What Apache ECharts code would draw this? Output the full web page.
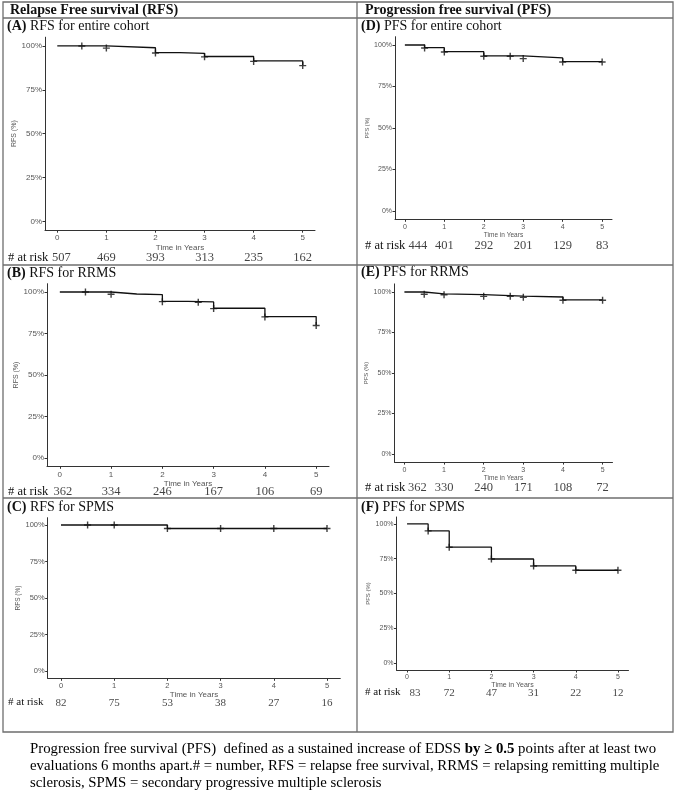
<!DOCTYPE html>
<html>
<head>
<meta charset="utf-8">
<script src="https://cdn.jsdelivr.net/npm/echarts@6/dist/echarts.min.js"></script>
<style>
html,body{margin:0;padding:0;background:#fff;}
#c{width:676px;height:801px;}
</style>
</head>
<body>
<div id="c"></div>
<script>
// ---------- DATA ----------
const timeTicks = [0, 1, 2, 3, 4, 5];
const pctTicks = [0, 25, 50, 75, 100];

// (A) RFS entire cohort
const rfsAllTime = [0, 1, 2, 2.5, 3, 4, 5];
const rfsAllSurv = [100, 99, 96.2, 95.8, 94, 91.5, 89];
const rfsAllCensTime = [0.5, 1, 2, 3, 4, 5];
const rfsAllCensSurv = [100, 98.8, 96, 93.8, 91.2, 88.8];
const rfsAllRisk = [507, 469, 393, 313, 235, 162];

// (D) PFS entire cohort
const pfsAllTime = [0, 0.5, 1, 2, 3, 4, 5];
const pfsAllSurv = [100, 98.4, 96, 93.4, 92.2, 90, 90];
const pfsAllCensTime = [0.5, 1, 2, 2.67, 3, 4, 5];
const pfsAllCensSurv = [98.2, 95.8, 93.2, 93.2, 91.8, 89.8, 89.8];
const pfsAllRisk = [444, 401, 292, 201, 129, 83];

// (B) RFS RRMS
const rfsRrTime = [0, 1, 1.5, 2, 2.5, 3, 4, 5];
const rfsRrSurv = [100, 98.8, 98.4, 94.4, 94, 90.2, 85.2, 80];
const rfsRrCensTime = [0.5, 1, 2, 2.7, 3, 4, 5];
const rfsRrCensSurv = [100, 98.6, 94.2, 93.8, 90, 85, 79.8];
const rfsRrRisk = [362, 334, 246, 167, 106, 69];

// (E) PFS RRMS
const pfsRrTime = [0, 0.5, 1, 2, 3, 4, 5];
const pfsRrSurv = [100, 98.8, 98.4, 97.5, 96.9, 95.1, 95.1];
const pfsRrCensTime = [0.5, 1, 2, 2.67, 3, 4, 5];
const pfsRrCensSurv = [98.6, 98.3, 97.3, 97.3, 96.7, 94.9, 94.9];
const pfsRrRisk = [362, 330, 240, 171, 108, 72];

// (C) RFS SPMS
const rfsSpTime = [0, 2, 5];
const rfsSpSurv = [100, 97.6, 97.6];
const rfsSpCensTime = [0.5, 1, 2, 3, 4, 5];
const rfsSpCensSurv = [100, 100, 97.6, 97.6, 97.6, 97.6];
const rfsSpRisk = [82, 75, 53, 38, 27, 16];

// (F) PFS SPMS
const pfsSpTime = [0, 0.5, 1, 2, 3, 4, 5];
const pfsSpSurv = [100, 95, 83.3, 74.8, 69.8, 66.7, 66.7];
const pfsSpCensTime = [0.5, 1, 2, 3, 4, 5];
const pfsSpCensSurv = [95, 83.3, 74.8, 69.8, 66.7, 66.7];
const pfsSpRisk = [83, 72, 47, 31, 22, 12];

const headerLeft = 'Relapse Free survival (RFS)';
const headerRight = 'Progression free survival (PFS)';
const riskLabel = '# at risk';
const xTitle = 'Time in Years';

// ---------- LAYOUT / STYLE ----------
const panels = [
  {tag:'(A)', sub:' RFS for entire cohort', yName:'RFS (%)', t:rfsAllTime, s:rfsAllSurv, ct:rfsAllCensTime, cs:rfsAllCensSurv, risk:rfsAllRisk,
   grid:{left:45, top:37.2, width:270, height:193}, tick:8, xn:8, yn:7, yGap:17, xGap:14, riskY:258, riskFs:12.5, off:4, tx:7, ty:27, rx:8},
  {tag:'(D)', sub:' PFS for entire cohort', yName:'PFS (%)', t:pfsAllTime, s:pfsAllSurv, ct:pfsAllCensTime, cs:pfsAllCensSurv, risk:pfsAllRisk,
   grid:{left:395, top:36.7, width:217, height:182.6}, tick:7, xn:6.5, yn:5.5, yGap:15, xGap:12, riskY:246, riskFs:12.5, off:13, tx:361, ty:27, rx:365},
  {tag:'(B)', sub:' RFS for RRMS', yName:'RFS (%)', t:rfsRrTime, s:rfsRrSurv, ct:rfsRrCensTime, cs:rfsRrCensSurv, risk:rfsRrRisk,
   grid:{left:47, top:283.7, width:282, height:182.6}, tick:8, xn:8, yn:7, yGap:20, xGap:13, riskY:492, riskFs:12.5, off:3, tx:7, ty:274, rx:8},
  {tag:'(E)', sub:' PFS for RRMS', yName:'PFS (%)', t:pfsRrTime, s:pfsRrSurv, ct:pfsRrCensTime, cs:pfsRrCensSurv, risk:pfsRrRisk,
   grid:{left:394.5, top:283.9, width:218, height:178.2}, tick:7, xn:6.5, yn:6, yGap:12, xGap:13, riskY:488, riskFs:12.5, off:13, tx:361, ty:273, rx:365},
  {tag:'(C)', sub:' RFS for SPMS', yName:'RFS (%)', t:rfsSpTime, s:rfsSpSurv, ct:rfsSpCensTime, cs:rfsSpCensSurv, risk:rfsSpRisk,
   grid:{left:47.7, top:517.7, width:292.6, height:160.6}, tick:7.5, xn:8, yn:6.5, yGap:20, xGap:11, riskY:703, riskFs:11, off:0, tx:7, ty:508, rx:8},
  {tag:'(F)', sub:' PFS for SPMS', yName:'PFS (%)', t:pfsSpTime, s:pfsSpSurv, ct:pfsSpCensTime, cs:pfsSpCensSurv, risk:pfsSpRisk,
   grid:{left:396.5, top:517, width:232, height:153}, tick:7, xn:7, yn:6, yGap:14, xGap:11, riskY:693, riskFs:11, off:8, tx:361, ty:508, rx:365}
];

const SANS = 'Liberation Sans, Arial, sans-serif';
const SERIF = 'Liberation Serif, Times New Roman, serif';
const AXC = '#333';
const LBC = '#555';
const PLUS = 'path://M4,0 H6 V4 H10 V6 H6 V10 H4 V6 H0 V4 H4 Z';

const grids = [], xAxes = [], yAxes = [], series = [], graphics = [];

panels.forEach((p, i) => {
  // main plot grid
  const gi = grids.length;
  grids.push(Object.assign({containLabel:false}, p.grid));
  xAxes.push({
    type:'value', gridIndex:gi, min:-0.25, max:5.25,
    name:xTitle, nameLocation:'middle', nameGap:p.xGap,
    nameTextStyle:{fontFamily:SANS, fontSize:p.xn, color:LBC},
    axisLine:{show:true, onZero:false, lineStyle:{color:AXC, width:1}},
    axisTick:{show:true, length:2.5, lineStyle:{color:AXC}, customValues:timeTicks},
    axisLabel:{fontFamily:SANS, fontSize:p.tick, color:LBC, margin:4, customValues:timeTicks, formatter:v=>String(v)},
    splitLine:{show:false}
  });
  yAxes.push({
    type:'value', gridIndex:gi, min:-5, max:105,
    name:p.yName, nameLocation:'middle', nameGap:p.yGap, nameRotate:90,
    nameTextStyle:{fontFamily:SANS, fontSize:p.yn, color:LBC},
    axisLine:{show:true, onZero:false, lineStyle:{color:AXC, width:1}},
    axisTick:{show:true, length:2.5, lineStyle:{color:AXC}, customValues:pctTicks},
    axisLabel:{fontFamily:SANS, fontSize:p.tick, color:LBC, margin:3, customValues:pctTicks, formatter:v=>v+'%'},
    splitLine:{show:false}
  });
  series.push({
    type:'line', xAxisIndex:gi, yAxisIndex:gi, step:'end', symbol:'none', silent:true,
    lineStyle:{color:'#111', width:1.3},
    data:p.t.map((t, k) => [t, p.s[k]]),
    z:3
  });
  series.push({
    type:'scatter', xAxisIndex:gi, yAxisIndex:gi, symbol:PLUS, symbolSize:7, silent:true,
    itemStyle:{color:'#111'},
    data:p.ct.map((t, k) => [t, p.cs[k]]),
    z:4
  });

  // risk table row (same x scale)
  const ri = grids.length;
  grids.push({left:p.grid.left, width:p.grid.width, top:p.riskY - 6, height:12, containLabel:false});
  xAxes.push({type:'value', gridIndex:ri, min:-0.25, max:5.25, show:false});
  yAxes.push({type:'value', gridIndex:ri, min:-1, max:1, show:false});
  series.push({
    type:'scatter', xAxisIndex:ri, yAxisIndex:ri, symbolSize:1, silent:true,
    itemStyle:{color:'rgba(0,0,0,0)'},
    label:{show:true, position:'inside', fontFamily:SERIF, fontSize:p.riskFs, color:'#111',
           formatter:q => String(q.value[2])},
    data:timeTicks.map((t, k) => ({value:[t, 0, p.risk[k]], label:{offset:[k === 0 ? p.off : 0, 0]}}))
  });

  graphics.push({
    type:'text', left:p.rx, top:p.riskY - p.riskFs * 0.55,
    style:{text:riskLabel, font:p.riskFs + 'px ' + SERIF, fill:'#111'}
  });
  graphics.push({
    type:'text', left:p.tx, top:p.ty - 8,
    style:{text:'{b|' + p.tag + '}{r|' + p.sub + '}',
      rich:{b:{fontFamily:SERIF, fontSize:14, fontWeight:'bold', fill:'#111', color:'#111'},
            r:{fontFamily:SERIF, fontSize:14, fill:'#111', color:'#111'}}}
  });
});

// table lines
const LC = '#6e6e6e';
const line = (x1, y1, x2, y2, w) => ({type:'line', shape:{x1, y1, x2, y2}, style:{stroke:LC, lineWidth:w || 1.3}, silent:true});
graphics.push({type:'rect', shape:{x:3, y:2, width:670, height:730}, style:{fill:'none', stroke:LC, lineWidth:1.3}, silent:true});
graphics.push(line(3, 18, 673, 18, 1.6));
graphics.push(line(357, 2, 357, 732));
graphics.push(line(3, 265, 673, 265));
graphics.push(line(3, 498, 673, 498));

// headers
graphics.push({type:'text', left:10, top:3, style:{text:headerLeft, font:'bold 14px ' + SERIF, fill:'#111'}});
graphics.push({type:'text', left:365, top:3, style:{text:headerRight, font:'bold 14px ' + SERIF, fill:'#111'}});

// caption
const capRich = {
  n:{fontFamily:SERIF, fontSize:14.8, color:'#111'},
  b:{fontFamily:SERIF, fontSize:14.8, color:'#111', fontWeight:'bold'}
};
graphics.push({type:'text', left:30, top:742, style:{
  text:'{n|Progression free survival (PFS)  defined as a sustained increase of EDSS }{b|by ≥ 0.5}{n| points after at least two}', rich:capRich}});
graphics.push({type:'text', left:30, top:759, style:{
  text:'{n|evaluations 6 months apart.# = number, RFS = relapse free survival, RRMS = relapsing remitting multiple}', rich:capRich}});
graphics.push({type:'text', left:30, top:776, style:{
  text:'{n|sclerosis, SPMS = secondary progressive multiple sclerosis}', rich:capRich}});

const chart = echarts.init(document.getElementById('c'), null, {renderer:'canvas'});
chart.setOption({
  animation:false,
  backgroundColor:'#fff',
  grid:grids, xAxis:xAxes, yAxis:yAxes, series:series, graphic:graphics
});
</script>
</body>
</html>
